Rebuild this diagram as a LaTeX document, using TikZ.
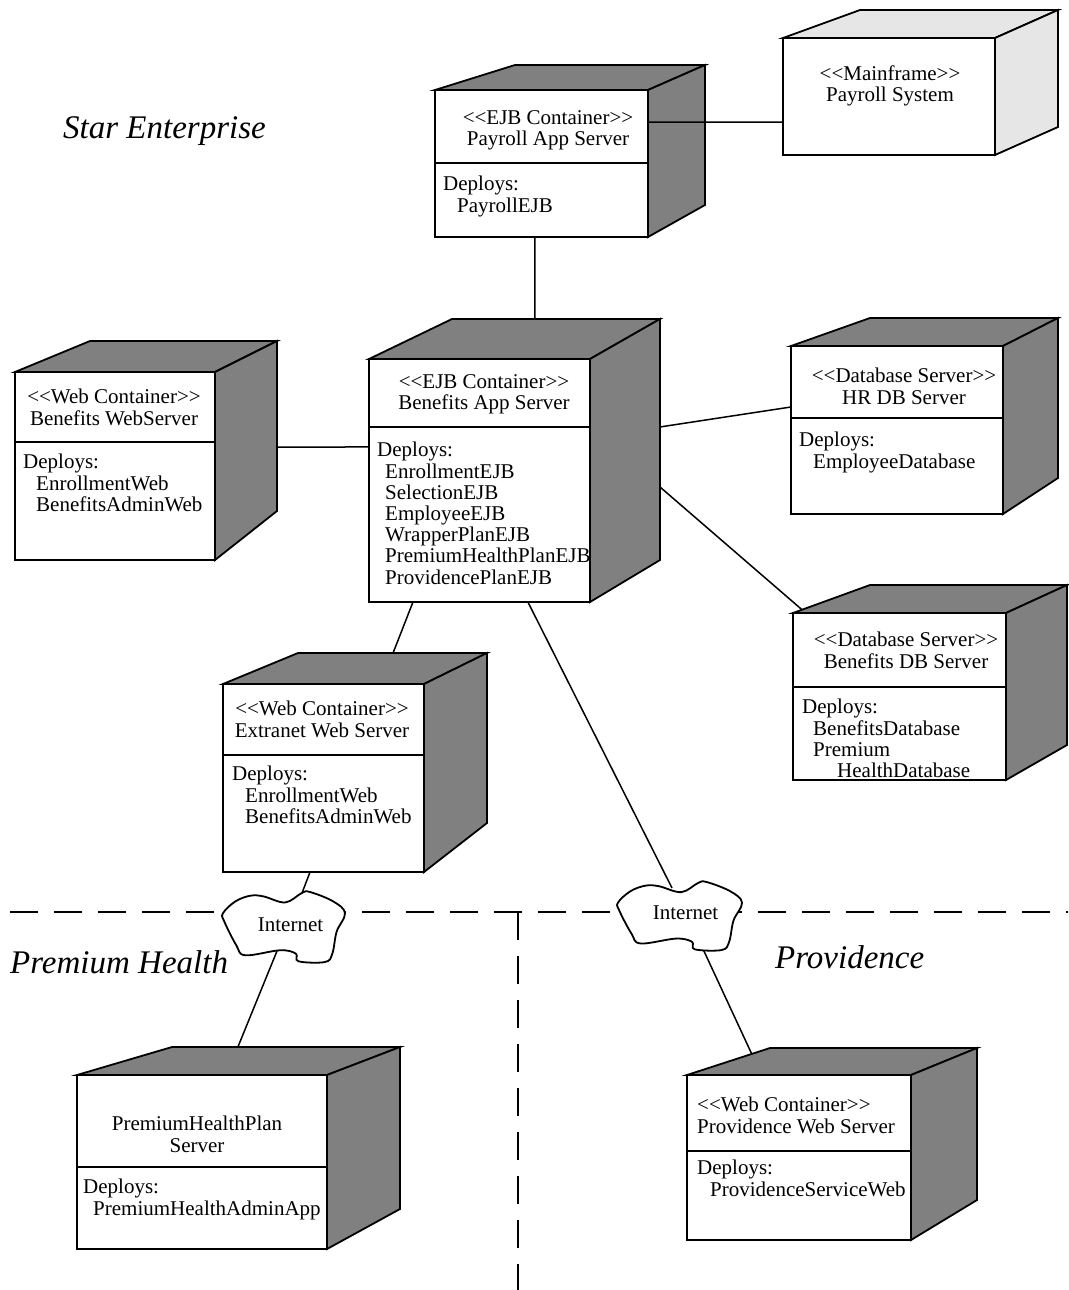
\documentclass[tikz,border=0pt]{standalone}
\usepackage{fontspec}
\setmainfont{Liberation Serif}[Ligatures=TeXOff]
\usetikzlibrary{calc}

\definecolor{sidegray}{RGB}{128,128,128}
\definecolor{mfgray}{RGB}{230,230,230}

\tikzset{
  frame/.style={draw=black, line width=1.8pt, line join=miter},
  side/.style={frame, fill=sidegray},
  front/.style={frame, fill=white, rectangle, inner sep=0pt, outer sep=0pt},
  link/.style={draw=black, line width=1.5pt},
  region/.style={draw=black, line width=1.8pt, dash pattern=on 28pt off 16pt},
  boxtext/.style={font=\fontsize{21}{21.2}\selectfont, inner sep=0pt,
                  execute at begin node=\strut, yshift=14.84pt},
  head/.style={boxtext, anchor=north, align=center},
  body/.style={boxtext, anchor=north west, align=left},
  zone/.style={font=\fontsize{33}{36}\selectfont\itshape, inner sep=0pt, anchor=base west},
  nettext/.style={font=\fontsize{21}{22}\selectfont, inner sep=0pt, anchor=base},
  cloudline/.style={draw=black, line width=1.8pt, fill=white},
  cloud/.pic={
    \path[cloudline] plot[smooth cycle, tension=0.6] coordinates {
      (-0.492,-0.197) (-0.392,-0.365) (-0.270,-0.447) (-0.162,-0.437)
      (0.014,-0.351) (0.149,-0.486) (0.216,-0.500) (0.405,-0.365)
      (0.500,-0.197) (0.432,0.067) (0.397,0.380) (0.338,0.500)
      (0.122,0.490) (0.100,0.380) (-0.027,0.332) (-0.311,0.404)
      (-0.384,0.260) (-0.481,-0.077)};
  }
}

% #1 name, #2-#5 front face (x1,y1,x2,y2), #6 back-left x, #7 back top y,
% #8 back-right x, #9 back bottom y
\newcommand\nodecube[9]{%
  \coordinate (#1-btl) at (#6,#7);
  \coordinate (#1-btr) at (#8,#7);
  \coordinate (#1-bbr) at (#8,#9);
  \path[side] (#2,#3) -- (#1-btl) -- (#1-btr) -- (#4,#3) -- cycle;
  \path[side] (#4,#3) -- (#1-btr) -- (#1-bbr) -- (#4,#5) -- cycle;
  \node[front, minimum width={#4-#2}, minimum height={#5-#3}] (#1)
    at ({(#2+#4)/2},{(#3+#5)/2}) {};
}
\newcommand\compartment[2]{%
  \draw[frame] (#1.west |- 0,#2) -- (#1.east |- 0,#2);
}

\begin{document}
\begin{tikzpicture}[x=1pt, y=-1pt]
  \useasboundingbox (0,0) rectangle (1068,1290);
  \fill[white] (0,0) rectangle (1068,1290);

  % region boundaries
  \coordinate (hl) at (10,912);
  \coordinate (hr-end) at (1068,912);
  \coordinate (vt) at (518,912);
  \coordinate (vb) at (518,1290);
  \draw[region] (hl) -- (hr-end);
  \draw[region] (vt) -- (vb);

  % internet clouds (centres and link points)
  \coordinate (inet1) at (283.5,927);
  \coordinate (inet1-n) at ($(inet1)+(18.5,-34)$);
  \coordinate (inet1-s) at ($(inet1)+(-6.5,24)$);
  \coordinate (inet2) at (679.5,916);
  \coordinate (inet2-n) at ($(inet2)+(-7.5,-28)$);
  \coordinate (inet2-s) at ($(inet2)+(23.5,33)$);

  % nodes
  \nodecube{pas}{435}{90}{648}{237}{515}{65}{705}{205}
  \begin{scope}[side/.style={frame, fill=mfgray}]
    \nodecube{mf}{783}{38}{995}{155}{860}{10}{1058}{127}
  \end{scope}
  \nodecube{bas}{369}{359}{590}{602}{452}{319}{660}{560}
  \nodecube{bws}{15}{372}{215}{560}{90}{341}{277}{511}
  \nodecube{hrdb}{791}{346}{1003}{514}{870}{318}{1058}{478}
  \nodecube{bdb}{793}{613}{1006}{780}{870}{585}{1067}{745}
  \nodecube{ews}{223}{684}{424}{872}{298}{653}{487}{823}
  \nodecube{phs}{77}{1075}{327}{1249}{172}{1047}{400}{1209}
  \nodecube{pws}{687}{1075}{911}{1240}{770}{1048}{977}{1200}

  \compartment{pas}{163}
  \compartment{bas}{427}
  \compartment{bws}{442}
  \compartment{hrdb}{418}
  \compartment{bdb}{687}
  \compartment{ews}{755}
  \compartment{phs}{1167}
  \compartment{pws}{1151}

  % connectors
  \draw[link] ($(pas.south west)!0.469!(pas.south east)$) -- ($(bas-btl)!0.399!(bas-btr)$);
  \draw[link] ($(pas.north east)!0.218!(pas.south east)$) -- ($(mf.north west)!0.718!(mf.south west)$);
  \draw[link] ($(bws-btr)!0.624!(bws-bbr)$) -- ($(bas.north west)!0.362!(bas.south west)$);
  \draw[link] ($(bas-btr)!0.448!(bas-bbr)$) -- ($(hrdb.north west)!0.363!(hrdb.south west)$);
  \draw[link] ($(bas-btr)!0.697!(bas-bbr)$) -- ($(bdb.north west)!0.117!(bdb-btl)$);
  \draw[link] ($(bas.south west)!0.199!(bas.south east)$) -- ($(ews-btl)!0.503!(ews-btr)$);
  \draw[link] ($(bas.south west)!0.719!(bas.south east)$) -- (inet2-n);
  \draw[link] ($(ews.south west)!0.433!(ews.south east)$) -- (inet1-n);
  \draw[link] (inet1-s) -- ($(phs-btl)!0.289!(phs-btr)$);
  \draw[link] (inet2-s) -- ($(pws.north west)!0.78!(pws-btl)$);

  \pic[x=123pt, y=-70pt] at (inet1) {cloud};
  \pic[x=125pt, y=-68pt] at (inet2) {cloud};
  \node[nettext] (inet1-label) at (290.5,931) {Internet};
  \node[nettext] (inet2-label) at (685.5,919) {Internet};

  % node texts
  \node[head] (pas-head) at (548,125) {<<EJB Container>>\\Payroll App Server};
  \node[body] (pas-body) at (443,191) {Deploys:\\\hspace*{14pt}PayrollEJB};

  \node[head] (mf-head) at (890,80) {<<Mainframe>>\\Payroll System};

  \node[head] (bas-head) at (484,389) {<<EJB Container>>\\Benefits App Server};
  \node[body] (bas-body) at (377,457) {Deploys:\\\hspace*{8pt}EnrollmentEJB\\\hspace*{8pt}SelectionEJB\\\hspace*{8pt}EmployeeEJB\\\hspace*{8pt}WrapperPlanEJB\\\hspace*{8pt}PremiumHealthPlanEJB\\\hspace*{8pt}ProvidencePlanEJB};

  \node[head] (bws-head) at (114,404) {<<Web Container>>\\Benefits WebServer};
  \node[body] (bws-body) at (23,469) {Deploys:\\\hspace*{13pt}EnrollmentWeb\\\hspace*{13pt}BenefitsAdminWeb};

  \node[head] (hrdb-head) at (904,383) {<<Database Server>>\\HR DB Server};
  \node[body] (hrdb-body) at (799,447) {Deploys:\\\hspace*{14pt}EmployeeDatabase};

  \node[head] (bdb-head) at (906,647) {<<Database Server>>\\Benefits DB Server};
  \node[body] (bdb-body) at (802,714) {Deploys:\\\hspace*{11pt}BenefitsDatabase\\\hspace*{11pt}Premium\\\hspace*{35pt}HealthDatabase};

  \node[head] (ews-head) at (322,716) {<<Web Container>>\\Extranet Web Server};
  \node[body] (ews-body) at (232,781) {Deploys:\\\hspace*{13pt}EnrollmentWeb\\\hspace*{13pt}BenefitsAdminWeb};

  \node[head] (phs-head) at (197,1131) {PremiumHealthPlan\\Server};
  \node[body] (phs-body) at (83,1194) {Deploys:\\\hspace*{10pt}PremiumHealthAdminApp};

  \node[body] (pws-head) at (697,1112) {<<Web Container>>\\Providence Web Server};
  \node[body] (pws-body) at (697,1175) {Deploys:\\\hspace*{13pt}ProvidenceServiceWeb};

  % region names
  \node[zone] (star) at (63,138) {Star Enterprise};
  \node[zone] (premium) at (10,973) {Premium Health};
  \node[zone] (providence) at (775,968) {Providence};
\end{tikzpicture}
\end{document}
